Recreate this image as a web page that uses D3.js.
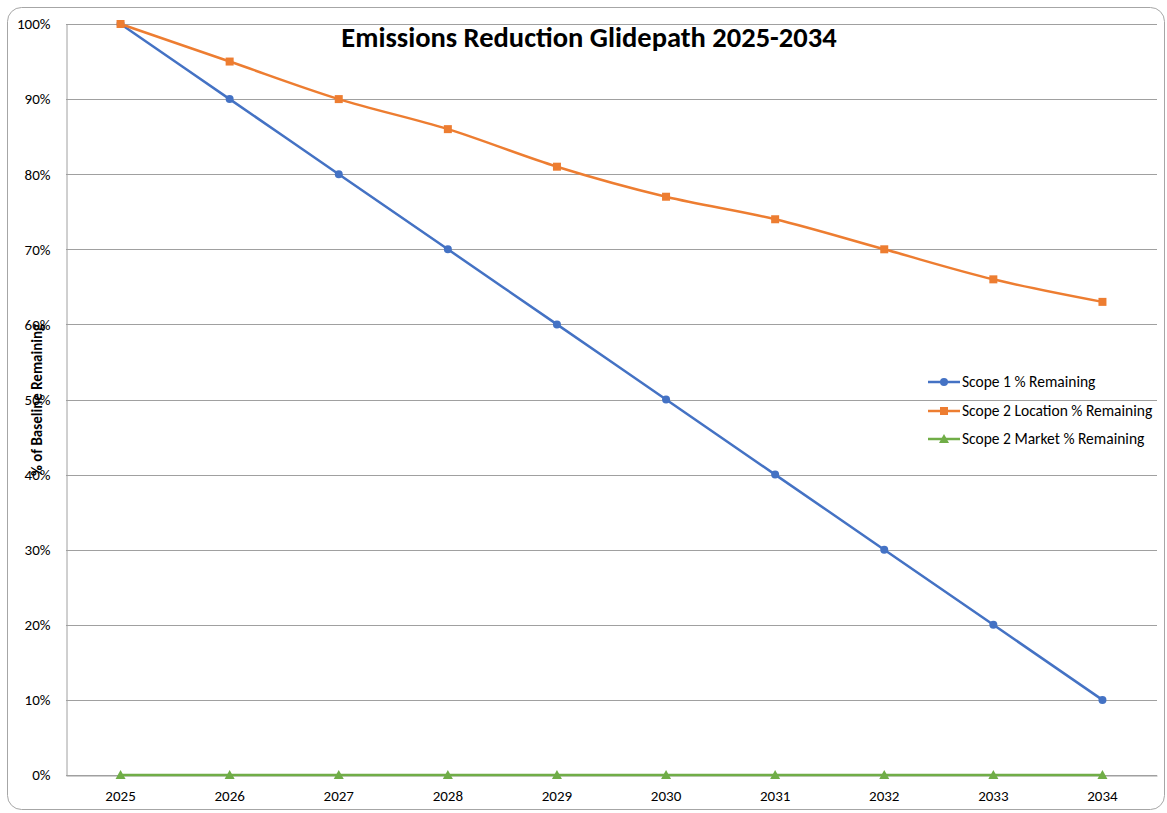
<!DOCTYPE html>
<html><head><meta charset="utf-8">
<script src="https://cdn.jsdelivr.net/npm/d3@7"></script>
<style>
body{margin:0;background:#fff;}
svg{display:block;font-family:Carlito,Calibri,"Open Sans","Liberation Sans",sans-serif;}
</style></head>
<body><svg id="c" width="1167" height="813"></svg>
<script>
const years = ["2025","2026","2027","2028","2029","2030","2031","2032","2033","2034"];
const scope1 = [100,90,80,70,60,50,40,30,20,10];
const scope2Location = [100,95,90,86,81,77,74,70,66,63];
const scope2Market = [0,0,0,0,0,0,0,0,0,0];
const yTicks = [0,10,20,30,40,50,60,70,80,90,100];
const seriesNames = ["Scope 1 % Remaining","Scope 2 Location % Remaining","Scope 2 Market % Remaining"];
const colors = ["#4472C4","#ED7D31","#70AD47"];
const markers = ["circle","square","triangle"];
const titleText = "Emissions Reduction Glidepath 2025-2034";
const yLabel = "% of Baseline Remaining";

const svg = d3.select("#c");
const m = {l:66, r:1157, t:24, b:775};
svg.append("rect").attr("x",7.5).attr("y",7.5).attr("width",1157).attr("height",802)
  .attr("rx",14).attr("fill","#fff").attr("stroke","#A6A6A6").attr("stroke-width",1);

const x = d3.scaleBand().domain(years).range([m.l,m.r]);
const y = d3.scaleLinear().domain([0,100]).range([m.b,m.t]);

// gridlines
svg.append("g").selectAll("line").data(yTicks).join("line")
  .attr("x1",m.l).attr("x2",m.r).attr("y1",d=>Math.round(y(d))+0.5).attr("y2",d=>Math.round(y(d))+0.5)
  .attr("stroke","#A0A0A0").attr("stroke-width",1);

// left axis
const ya = svg.append("g").attr("transform",`translate(${m.l+0.5},0)`)
  .call(d3.axisLeft(y).tickValues(yTicks).tickFormat(d=>d+"%").tickSize(0).tickPadding(16));
ya.select(".domain").attr("stroke","#A0A0A0");
ya.selectAll("text").attr("font-size",15).attr("fill","#000").attr("font-family","Carlito,Calibri,'Open Sans',sans-serif");

// bottom axis
const xa = svg.append("g").attr("transform",`translate(0,${Math.round(y(0))+0.5})`)
  .call(d3.axisBottom(x).tickSize(0).tickPadding(15));
xa.select(".domain").attr("stroke","#A0A0A0");
xa.selectAll("text").attr("font-size",15).attr("fill","#000").attr("font-family","Carlito,Calibri,'Open Sans',sans-serif");

// y label
svg.append("text").attr("transform",`translate(42,400) rotate(-90)`).attr("text-anchor","middle")
  .attr("font-size",15).attr("font-weight","bold").text(yLabel);

// title
svg.append("text").attr("x",589).attr("y",47).attr("text-anchor","middle")
  .attr("font-size",28.5).attr("font-weight","bold").text(titleText);

const data = [scope1, scope2Location, scope2Market];
const line = d3.line().x((d,i)=>x(years[i])+x.bandwidth()/2).y(d=>y(d)).curve(d3.curveCatmullRom.alpha(0.5));

function drawMarker(g, type, cx, cy, color){
  if(type==="circle") g.append("circle").attr("cx",cx).attr("cy",cy).attr("r",4).attr("fill",color);
  else if(type==="square") g.append("rect").attr("x",cx-4).attr("y",cy-4).attr("width",8).attr("height",8).attr("fill",color);
  else g.append("path").attr("d",`M${cx},${cy-5}L${cx+5},${cy+4}L${cx-5},${cy+4}Z`).attr("fill",color);
}

data.forEach((s,k)=>{
  const g = svg.append("g");
  g.append("path").datum(s).attr("d",line).attr("fill","none").attr("stroke",colors[k]).attr("stroke-width",2.5);
  s.forEach((v,i)=>drawMarker(g, markers[k], x(years[i])+x.bandwidth()/2, y(v), colors[k]));
});

// legend
const lg = svg.append("g");
const ly = [382,411,439];
seriesNames.forEach((n,k)=>{
  lg.append("line").attr("x1",928).attr("x2",960).attr("y1",ly[k]).attr("y2",ly[k]).attr("stroke",colors[k]).attr("stroke-width",2.5);
  drawMarker(lg, markers[k], 944, ly[k], colors[k]);
  lg.append("text").attr("x",962).attr("y",ly[k]+5).attr("font-size",15.5).text(n);
});
</script></body></html>
